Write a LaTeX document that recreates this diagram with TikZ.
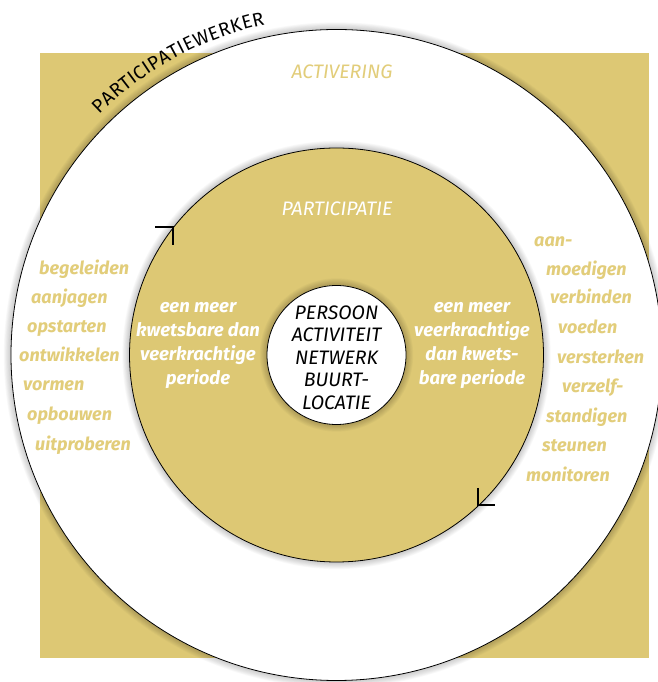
\documentclass[tikz,border=0pt]{standalone}
\usepackage{fontspec}
\setmainfont{Fira Sans}
\usetikzlibrary{decorations.text,calc}
\definecolor{gold}{RGB}{221,200,116}
\definecolor{goldtext}{RGB}{226,205,122}
\tikzset{
  ring/.style={draw=black, line width=0.8pt},
  goldword/.style={anchor=base west, inner sep=0pt, text=goldtext, font=\bfseries\itshape\fontsize{18}{18}\selectfont},
  innertext/.style={align=center, text=white, inner sep=0pt, font=\bfseries\itshape\fontsize{18.5}{24}\selectfont},
  titletext/.style={inner sep=0pt, font=\itshape\fontsize{19.5}{19.5}\selectfont},
  turn/.style={draw=black, line width=1.7pt, line cap=butt, line join=miter}
}
\newcommand{\softshadow}[2]{%
  \foreach \k in {1,...,9} {\fill[black, opacity=0.022] #1 circle ({#2+\k*0.8});}}
\begin{document}
\begin{tikzpicture}[x=1pt,y=1pt]
\useasboundingbox (0,0) rectangle (657,682);
\coordinate (C) at (336.5,327);
% background square
\fill[gold] (40,24) rectangle (649,629);
% outer white ring
\softshadow{(C)}{325.5}
\node[circle, fill=white, ring, minimum size=651pt, inner sep=0pt] (outer) at (C) {};
% inner gold circle
\softshadow{(C)}{207}
\node[circle, fill=gold, ring, minimum size=414pt, inner sep=0pt] (inner) at (C) {};
% core
\softshadow{(C)}{69.5}
\node[circle, fill=white, ring, minimum size=139pt, inner sep=0pt] (core) at (C) {};

% curved label
\path[decorate, decoration={text along path, text align={fit to path},
  text={|\fontsize{19}{19}\selectfont|PARTICIPATIEWERKER}}]
  ($(C)+(134.6:338)$) arc[start angle=134.6, end angle=102.2, radius=338];

% titles
\node[titletext, text=goldtext] (activering) at (342,610) {ACTIVERING};
\node[titletext, text=white] (participatie) at (337,473) {PARTICIPATIE};

% core text
\node[align=center, inner sep=0pt, font=\itshape\fontsize{19.5}{22.5}\selectfont] (coretext) at (336.5,324.5)
  {PERSOON\\ACTIVITEIT\\NETWERK\\BUURT-\\LOCATIE};

% inner texts
\node[innertext] (lefttext) at (198,337) {een meer\\kwetsbare dan\\veerkrachtige\\periode};
\node[innertext] (righttext) at (472,337) {een meer\\veerkrachtige\\dan kwets-\\bare periode};

% left words
\node[goldword] (w1) at (39,407) {begeleiden};
\node[goldword] (w2) at (31,378) {aanjagen};
\node[goldword] (w3) at (27,349) {opstarten};
\node[goldword] (w4) at (19,320) {ontwikkelen};
\node[goldword] (w5) at (23,291) {vormen};
\node[goldword] (w6) at (27,261) {opbouwen};
\node[goldword] (w7) at (35,231) {uitproberen};

% right words
\node[goldword] (r1) at (534,435) {aan-};
\node[goldword] (r2) at (546,406) {moedigen};
\node[goldword] (r3) at (550,378) {verbinden};
\node[goldword] (r4) at (558,348) {voeden};
\node[goldword] (r5) at (557,318) {versterken};
\node[goldword] (r6) at (562,289) {verzelf-};
\node[goldword] (r7) at (546,259) {standigen};
\node[goldword] (r8) at (542,230) {steunen};
\node[goldword] (r9) at (526,200) {monitoren};

% direction marks on inner circle
\coordinate (t1) at (173,455);
\coordinate (t2) at (478,177);
\draw[turn] ($(t1)+(-18,0)$) -- (t1) -- ($(t1)+(0,-18)$);
\draw[turn] ($(t2)+(0,17)$) -- (t2) -- ($(t2)+(17,0)$);
\end{tikzpicture}
\end{document}
